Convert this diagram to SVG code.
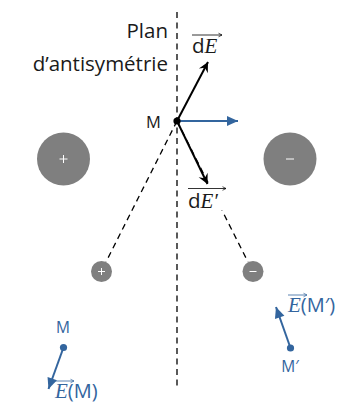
<svg xmlns="http://www.w3.org/2000/svg" width="338" height="403" viewBox="0 0 338 403">
<defs>
<style>
.lbl{font-family:"Open Sans","Liberation Sans",sans-serif;font-weight:400;fill:#1a1a1a}
.blbl{font-family:"Open Sans","Liberation Sans",sans-serif;font-weight:400;fill:#33659e}
.math{font-family:"Liberation Serif",serif;font-style:italic;font-weight:400}
.dash{stroke:#000;stroke-width:1.3;stroke-dasharray:6 4.5;fill:none}
.charge{fill:#7f7f7f}
.sign{stroke:#fff;stroke-width:1;fill:none}
.blk{stroke:#000;stroke-width:2;fill:none;marker-end:url(#stealth)}
.blu{stroke:#33659e;stroke-width:2;fill:none;marker-end:url(#tri)}
.over{stroke-width:0.8;fill:none}
</style>
<marker id="stealth" markerUnits="userSpaceOnUse" viewBox="-11 -6 12 12" refX="0" refY="0" markerWidth="12" markerHeight="12" orient="auto" overflow="visible">
<path d="M0,0 L-10,-5 L-6.5,0 L-10,5 Z" fill="#000"/>
</marker>
<marker id="tri" markerUnits="userSpaceOnUse" viewBox="-11 -6 12 12" refX="0" refY="0" markerWidth="12" markerHeight="12" orient="auto" overflow="visible">
<path d="M0,0 L-11,-5 L-11,5 Z" fill="#33659e"/>
</marker>
<marker id="ovk" markerUnits="userSpaceOnUse" viewBox="-4 -3 5 6" refX="0" refY="0" markerWidth="5" markerHeight="6" orient="auto" overflow="visible">
<path d="M0,0 L-3.5,-1.8 M0,0 L-3.5,1.8" stroke="#000" stroke-width="0.7" fill="none"/>
</marker>
<marker id="ovb" markerUnits="userSpaceOnUse" viewBox="-4 -3 5 6" refX="0" refY="0" markerWidth="5" markerHeight="6" orient="auto" overflow="visible">
<path d="M0,0 L-3.5,-1.8 M0,0 L-3.5,1.8" stroke="#33659e" stroke-width="0.7" fill="none"/>
</marker>
</defs>

<g id="connectors">
<line class="dash" x1="177" y1="12" x2="177" y2="390"/>
<line class="dash" x1="177" y1="121" x2="106" y2="262"/>
<line class="dash" x1="177" y1="121" x2="248" y2="262"/>
</g>

<g id="plan-label">
<text class="lbl" x="168" y="38" font-size="20.5" text-anchor="end">Plan</text>
<text class="lbl" x="168" y="71" font-size="20.5" text-anchor="end">d’antisymétrie</text>
</g>

<g id="charge-big-plus">
<circle class="charge" cx="63.5" cy="159" r="26.5"/>
<path class="sign" d="M59.5,159 H67.5 M63.5,155 V163"/>
</g>
<g id="charge-big-minus">
<circle class="charge" cx="290" cy="159" r="26.5"/>
<path class="sign" d="M286,159 H294"/>
</g>
<g id="charge-small-plus">
<circle class="charge" cx="101.5" cy="271.5" r="10.5"/>
<path class="sign" d="M98,271.5 H105 M101.5,268 V275"/>
</g>
<g id="charge-small-minus">
<circle class="charge" cx="253" cy="271.5" r="10.5"/>
<path class="sign" d="M249.5,271.5 H256.5"/>
</g>

<g id="dEprime-label">
<rect x="185" y="185.5" width="44" height="25" fill="#fff"/>
<line class="over" stroke="#000" x1="188" y1="188.5" x2="226" y2="188.5" marker-end="url(#ovk)"/>
<text x="188" y="208" font-size="20.5"><tspan class="lbl">d</tspan><tspan class="math" fill="#1a1a1a" font-size="21">E′</tspan></text>
</g>

<g id="dE-label">
<line class="over" stroke="#000" x1="192" y1="35" x2="222" y2="35" marker-end="url(#ovk)"/>
<text x="192" y="53" font-size="20.5"><tspan class="lbl">d</tspan><tspan class="math" fill="#1a1a1a" font-size="21">E</tspan></text>
</g>

<g id="arrows">
<line class="blk" x1="177" y1="121" x2="208" y2="62"/>
<line class="blk" x1="177" y1="121" x2="207.5" y2="184"/>
<line class="blu" x1="177" y1="121" x2="238" y2="121"/>
</g>

<g id="M">
<circle cx="177" cy="121" r="3.6" fill="#000"/>
<text class="lbl" x="146" y="128" font-size="16.5">M</text>
</g>

<g id="M-bottom">
<text class="blbl" x="63" y="333" font-size="15.5" text-anchor="middle">M</text>
<line class="blu" x1="63.5" y1="347.5" x2="48.5" y2="389"/>
<circle cx="63.5" cy="347.5" r="3.6" fill="#33659e"/>
<line class="over" stroke="#33659e" x1="55" y1="381" x2="74" y2="381" marker-end="url(#ovb)"/>
<text x="55" y="398" font-size="20"><tspan class="math" fill="#33659e" font-size="21">E</tspan><tspan class="blbl">(M)</tspan></text>
</g>

<g id="Mprime-bottom">
<line class="blu" x1="290.5" y1="348" x2="276" y2="307"/>
<circle cx="290.5" cy="348" r="3.6" fill="#33659e"/>
<text class="blbl" x="290" y="372" font-size="15.5" text-anchor="middle">M′</text>
<line class="over" stroke="#33659e" x1="288" y1="295" x2="307" y2="295" marker-end="url(#ovb)"/>
<text x="288" y="312" font-size="20"><tspan class="math" fill="#33659e" font-size="21">E</tspan><tspan class="blbl">(M′)</tspan></text>
</g>
</svg>
